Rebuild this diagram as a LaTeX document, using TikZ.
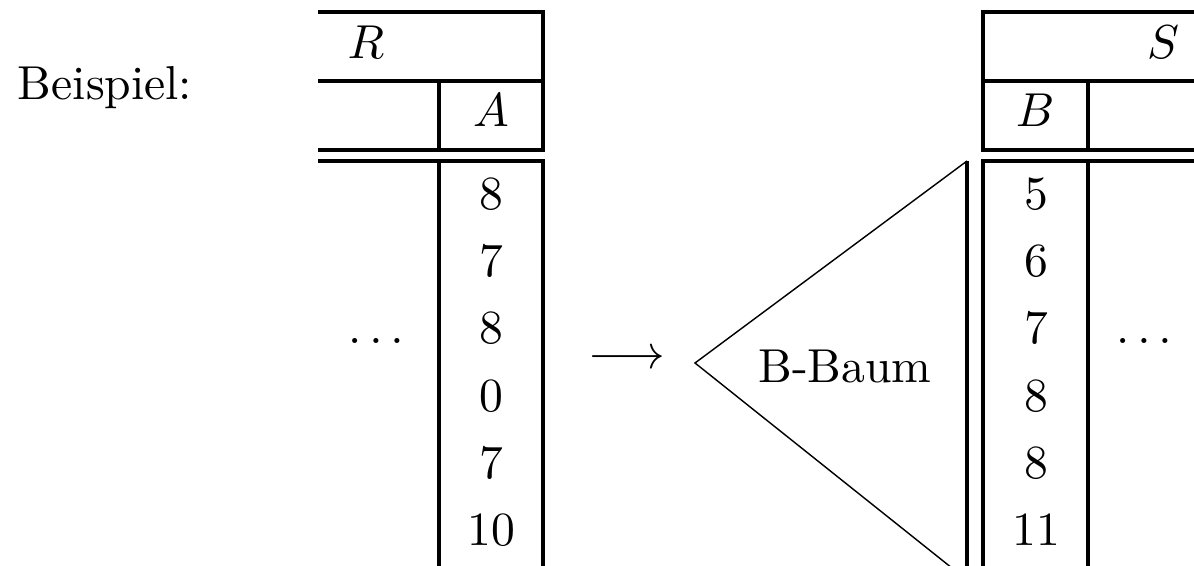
\documentclass[tikz,border=0pt]{standalone}
\usepackage{amsmath,amssymb}
\usepackage{tikz}
\usetikzlibrary{positioning}
\tikzset{
  base/.style={font=\normalsize, inner sep=0pt, anchor=base},
  tbl/.style={line width=0.65pt, line join=miter},
  thinline/.style={line width=0.3pt},
  val/.style={base},
}

\begin{document}
\begin{tikzpicture}[x=0.21pt,y=-0.21pt]
  \useasboundingbox (0,0) rectangle (1194,565);
  \clip (0,0) rectangle (1194,565);
  \node[base] (beispiel) at (105,100) {Beispiel:};
  % relation R
  \draw[tbl] (318,12) -| (543,150) -- (318,150);
  \draw[tbl] (318,81) -- (543,81);
  \draw[tbl] (439,81) -- (439,150);
  \draw[tbl] (318,161) -- (543,161) -- (543,580);
  \draw[tbl] (439,161) -- (439,580);
  \node[base] (rname) at (366,59) {$R$};
  \node[base] (acol) at (491,127) {$A$};
  \foreach \v [count=\i] in {8,7,8,0,7,10}{
    \node[val] (r\i) at (491,143+67*\i) {$\v$};
  }
  \node[base] (rdots) at (376,344) {$\ldots$};
  % arrow and B-tree
  \node (arrow) at (627,360) [inner sep=0pt] {$\longrightarrow$};
  \coordinate (apex) at (695,363);
  \coordinate (ttop) at (967,161);
  \coordinate (tbot) at (967,580);
  \draw[thinline] (ttop) -- (apex) -- (tbot);
  \draw[tbl] (ttop) -- (tbot);
  \node[base] (baum) at (845,382) {B-Baum};
  % relation S
  \draw[tbl] (1200,12) -| (983,150) -- (1200,150);
  \draw[tbl] (983,81) -- (1200,81);
  \draw[tbl] (1088,81) -- (1088,150);
  \draw[tbl] (1200,161) -| (983,580);
  \draw[tbl] (1088,161) -- (1088,580);
  \node[base] (sname) at (1163,59) {$S$};
  \node[base] (bcol) at (1035,127) {$B$};
  \foreach \v [count=\i] in {5,6,7,8,8,11}{
    \node[val] (s\i) at (1036,143+67*\i) {$\v$};
  }
  \node[base] (sdots) at (1144,344) {$\ldots$};
\end{tikzpicture}
\end{document}
